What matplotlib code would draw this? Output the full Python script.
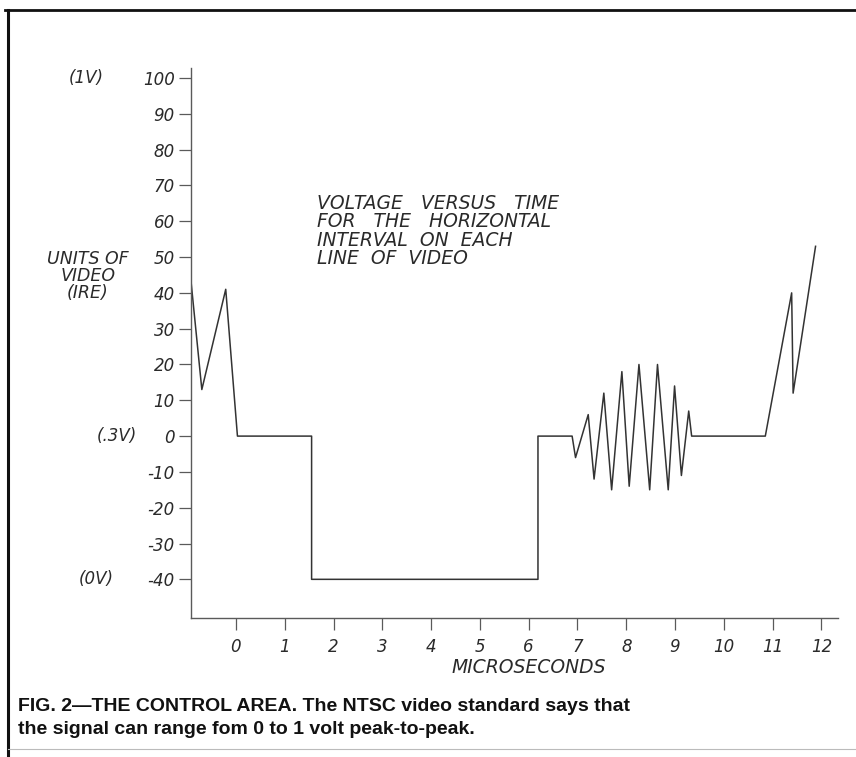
import matplotlib
matplotlib.use("Agg")
import matplotlib.pyplot as plt
from matplotlib.lines import Line2D

# waveform of one horizontal interval
time_us = [-0.92, -0.70, -0.21, 0.03, 1.55, 1.55, 6.19, 6.19, 6.89, 6.96,
           7.22, 7.34, 7.54, 7.70, 7.91, 8.06, 8.26, 8.48, 8.64, 8.86,
           8.99, 9.13, 9.28, 9.34, 10.85, 11.39, 11.42, 11.88]
ire = [43, 13, 41, 0, 0, -40, -40, 0, 0, -6,
       6, -12, 12, -15, 18, -14, 20, -15, 20, -15,
       14, -11, 7, 0, 0, 40, 12, 53]

x_ticks = list(range(0, 13))
x_labels = [str(t) for t in x_ticks]
y_ticks = list(range(-40, 101, 10))
y_labels = [str(t) for t in y_ticks]
volt_labels = {100: "(1V)", 0: "(.3V)", -40: "(0V)"}
volt_offsets = {100: -63, 0: -39, -40: -56}   # points left of the axis

note = "VOLTAGE   VERSUS   TIME\nFOR   THE   HORIZONTAL\nINTERVAL  ON  EACH\nLINE  OF  VIDEO"
caption = ("FIG. 2\u2014THE CONTROL AREA. The NTSC video standard says that\n"
           "the signal can range fom 0 to 1 volt peak-to-peak.")

ink = "#2a2a2a"
hand = dict(family="DejaVu Sans", style="italic", color=ink)

fig = plt.figure(figsize=(8.56, 7.57), dpi=100)
ax = fig.add_axes([191 / 856, 1 - 618 / 757, 647 / 856, 550 / 757])

ax.plot(time_us, ire, color="#333333", lw=1.1)

ax.set_xlim(-0.922, 12.34)
ax.set_ylim(-50.8, 102.8)
for s in ["top", "right"]:
    ax.spines[s].set_visible(False)
for s in ["left", "bottom"]:
    ax.spines[s].set_color("#5a5a5a")
    ax.spines[s].set_linewidth(1.0)

ax.set_xticks(x_ticks)
ax.set_xticklabels(x_labels, fontsize=12, **hand)
ax.set_yticks(y_ticks)
ax.set_yticklabels(y_labels, fontsize=12, **hand)
ax.tick_params(axis="both", direction="out", length=8.6, width=0.9,
               color="#5a5a5a", pad=3)
ax.tick_params(axis="x", pad=6)

for v, lab in volt_labels.items():
    ax.annotate(lab, xy=(0, v), xycoords=("axes fraction", "data"),
                xytext=(volt_offsets[v], 0), textcoords="offset points",
                ha="right", va="center", fontsize=12, **hand)

fig.text(88 / 856, 1 - 276 / 757, "UNITS OF\nVIDEO\n(IRE)", ha="center",
         va="center", multialignment="center", fontsize=12.5,
         linespacing=0.95, **hand)

ax.text(1.66, 57.3, note, ha="left", va="center", fontsize=13.5,
        linespacing=0.95, **hand)

ax.text(6.0, -0.09, "MICROSECONDS", transform=ax.get_xaxis_transform(),
        ha="center", va="center", fontsize=13.5, **hand)

fig.text(18 / 856, 1 - 718 / 757, caption, ha="left", va="center",
         family="Liberation Sans", weight="bold", fontsize=14,
         linespacing=1.45, color="#111111")

# page frame of the printed figure
fig.add_artist(Line2D([5 / 856, 1.0], [1 - 10 / 757] * 2, color="#111111",
                      lw=2.0, transform=fig.transFigure))
fig.add_artist(Line2D([8 / 856] * 2, [0.0, 1 - 10 / 757], color="#111111",
                      lw=2.2, transform=fig.transFigure))
fig.add_artist(Line2D([8 / 856, 1.0], [1 - 749 / 757] * 2, color="#bbbbbb",
                      lw=0.8, transform=fig.transFigure))

fig.savefig("out.png", dpi=100)
